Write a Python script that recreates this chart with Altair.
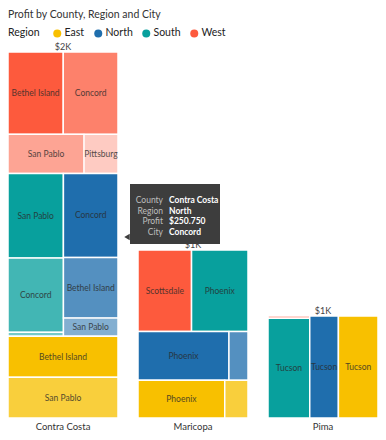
import altair as alt
import pandas as pd

# ---------------- data ----------------
county = ["Contra Costa"] * 12 + ["Maricopa"] * 6 + ["Pima"] * 4
region = (["West"] * 4 + ["South"] * 3 + ["North"] * 3 + ["East"] * 2
          + ["West", "South", "North", "North", "East", "East"]
          + ["West", "South", "North", "East"])
city = (["Bethel Island", "Concord", "San Pablo", "Pittsburg",
         "San Pablo", "Concord", "Pittsburg",
         "Concord", "Bethel Island", "San Pablo",
         "Bethel Island", "San Pablo"]
        + ["Scottsdale", "Phoenix", "Phoenix", "Mesa", "Phoenix", "Mesa"]
        + ["Tucson", "Tucson", "Tucson", "Tucson"])
profit = ([249, 247, 163, 73,
           256, 226, 12,
           250.75, 181, 55,
           247, 245]
          + [239, 252, 243, 51, 179, 48]
          + [5, 228, 160, 221])

county_order = ["Contra Costa", "Maricopa", "Pima"]
region_order = ["West", "South", "North", "East"]      # layout order
legend_order = ["East", "North", "South", "West"]
region_colors = ["#F8C000", "#1F6EAD", "#08A09D", "#FD5A3D"]
shade_levels = [1.0, 0.76, 0.55, 0.31]
chart_title = "Profit by County, Region and City"

# ---------------- geometry of the view ----------------
COL_W = 110
GAP = 20
PLOT_H = 366
PLOT_W = 3 * COL_W + 2 * GAP
PHI = (1 + 5 ** 0.5) / 2
FONT = "Lato"

df = pd.DataFrame(dict(county=county, region=region, city=city, profit=profit))
totals = df.groupby("county", sort=False)["profit"].sum()
YMAX = float(totals.max())
K = PLOT_H / YMAX  # px per $


def dice(items, x0, y0, x1, y1):
    tot = sum(v for _, v in items)
    out, x = [], x0
    for key, v in items:
        w = (x1 - x0) * v / tot if tot else 0
        out.append((key, x, y0, x + w, y1))
        x += w
    return out


def slice_(items, x0, y0, x1, y1):
    tot = sum(v for _, v in items)
    out, y = [], y0
    for key, v in items:
        h = (y1 - y0) * v / tot if tot else 0
        out.append((key, x0, y, x1, y + h))
        y += h
    return out


def squarify(items, x0, y0, x1, y1, ratio=PHI):
    """d3-hierarchy treemapSquarify (golden ratio)."""
    value = sum(v for _, v in items)
    n = len(items)
    i0 = i1 = 0
    out = []
    while i0 < n:
        dx, dy = x1 - x0, y1 - y0
        sumv = items[i1][1]
        i1 += 1
        minv = maxv = sumv
        alpha = max(dy / dx, dx / dy) / (value * ratio)
        beta = sumv * sumv * alpha
        minr = max(maxv / beta, beta / minv)
        while i1 < n:
            nv = items[i1][1]
            s = sumv + nv
            mn, mx = min(minv, nv), max(maxv, nv)
            beta = s * s * alpha
            nr = max(mx / beta, beta / mn)
            if nr > minr:
                break
            sumv, minv, maxv, minr = s, mn, mx, nr
            i1 += 1
        row = items[i0:i1]
        if dx < dy:
            ny = y0 + dy * sumv / value
            out += dice(row, x0, y0, x1, ny)
            y0 = ny
        else:
            nx = x0 + dx * sumv / value
            out += slice_(row, x0, y0, nx, y1)
            x0 = nx
        value -= sumv
        i0 = i1
    return out


rects = []
tot_rows = []
for ci, c in enumerate(county_order):
    sub = df[df.county == c]
    total = float(sub.profit.sum())
    cx0 = ci * (COL_W + GAP)
    top = PLOT_H - total * K
    tot_rows.append(dict(county=c, cx=cx0 + COL_W / 2, total=total))
    reg_items = [(r, float(sub[sub.region == r].profit.sum()))
                 for r in region_order if (sub.region == r).any()]
    for r, rx0, ry0, rx1, ry1 in squarify(reg_items, cx0, top, cx0 + COL_W, PLOT_H):
        rs = sub[sub.region == r]
        items = [(idx, float(v)) for idx, v in zip(rs.index, rs.profit)]
        for rank, (idx, x0, y0, x1, y1) in enumerate(squarify(items, rx0, ry0, rx1, ry1)):
            row = df.loc[idx]
            rects.append(dict(
                county=row.county, region=row.region, city=row.city,
                profit=row.profit, shade=shade_levels[min(rank, 3)],
                x0=x0, x1=x1,
                ytop=(PLOT_H - y0) / K, ybot=(PLOT_H - y1) / K,
                cx=(x0 + x1) / 2, cy=(PLOT_H - (y0 + y1) / 2) / K,
                show=bool((x1 - x0) >= 26 and (y1 - y0) >= 12),
            ))

rdf = pd.DataFrame(rects)
tdf = pd.DataFrame(tot_rows)

xs = alt.Scale(domain=[0, PLOT_W], nice=False, zero=False)
ys = alt.Scale(domain=[0, YMAX], nice=False, zero=False)

base = alt.Chart(rdf)

cells = base.mark_rect(stroke="white", strokeWidth=1.5).encode(
    x=alt.X("x0:Q", scale=xs, axis=None),
    x2="x1:Q",
    y=alt.Y("ytop:Q", scale=ys, axis=None),
    y2="ybot:Q",
    color=alt.Color("region:N",
                    scale=alt.Scale(domain=legend_order, range=region_colors),
                    legend=alt.Legend(title="Region")),
    opacity=alt.Opacity("shade:Q", scale=None, legend=None),
)

city_labels = base.transform_filter("datum.show").mark_text(
    fontSize=8.5, font=FONT, color="#2a2a2a", opacity=0.8
).encode(
    x=alt.X("cx:Q", scale=xs), y=alt.Y("cy:Q", scale=ys), text="city:N"
)

tot_labels = alt.Chart(tdf).transform_calculate(
    lab="'$' + format(datum.total / 1000, '.0f') + 'K'"
).mark_text(fontSize=9, font=FONT, color="#444444", dy=-2,
            baseline="alphabetic").encode(
    x=alt.X("cx:Q", scale=xs), y=alt.Y("total:Q", scale=ys), text="lab:N"
)

county_labels = alt.Chart(tdf).mark_text(
    fontSize=9.5, font=FONT, color="#333333", dy=12, baseline="alphabetic"
).encode(
    x=alt.X("cx:Q", scale=xs), y=alt.datum(0, scale=ys), text="county:N"
)

title_mark = alt.Chart(pd.DataFrame({"t": [chart_title]})).mark_text(
    align="left", baseline="middle", fontSize=10.5, font=FONT, color="#333333"
).encode(x=alt.value(0), y=alt.value(-37), text="t:N")

# ---- hover tooltip shown in the screenshot (North / Concord in Contra Costa) ----
tip_row = rdf[(rdf.county == "Contra Costa") & (rdf.region == "North") & (rdf.city == "Concord")]
tip_df = pd.DataFrame({
    "key": ["County", "Region", "Profit", "City"],
    "val": [tip_row.county.iloc[0], tip_row.region.iloc[0],
            "$" + f"{tip_row.profit.iloc[0]:.3f}", tip_row.city.iloc[0]],
    "line": [0, 1, 2, 3],
})
tip_box = alt.Chart(tip_df.head(1)).mark_rect(color="#3d3d3d").encode(
    x=alt.value(122), x2=alt.value(212), y=alt.value(132), y2=alt.value(192)
)
tip_arrow = alt.Chart(tip_df.head(1)).mark_point(
    shape="triangle-left", filled=True, color="#3d3d3d", size=40, opacity=1
).encode(x=alt.value(119), y=alt.value(185))
tip_keys = alt.Chart(tip_df).transform_calculate(py="148 + datum.line * 10.7").mark_text(
    align="right", baseline="middle", fontSize=8.5, font=FONT, color="#bdbdbd"
).encode(x=alt.value(155), y=alt.Y("py:Q", scale=None), text="key:N")
tip_vals = alt.Chart(tip_df).transform_calculate(py="148 + datum.line * 10.7").mark_text(
    align="left", baseline="middle", fontSize=8.5, font=FONT, color="white",
    fontWeight="bold"
).encode(x=alt.value(161), y=alt.Y("py:Q", scale=None), text="val:N")

chart = alt.layer(
    cells, city_labels, tot_labels, county_labels, title_mark,
    tip_box, tip_arrow, tip_keys, tip_vals
).properties(
    width=PLOT_W, height=PLOT_H,
    autosize=alt.AutoSizeParams(type="none"),
    padding={"left": 0, "top": 44, "right": 0, "bottom": 14},
).configure_view(stroke=None).configure_legend(
    orient="none", legendX=0, legendY=-24, direction="horizontal",
    titleOrient="left", titleFontSize=10.5, titleFont=FONT,
    titleFontWeight="normal", titleColor="#222222", titlePadding=12,
    labelFontSize=10.5, labelFont=FONT, labelColor="#222222",
    symbolType="circle", symbolSize=64, symbolStrokeWidth=0, symbolOpacity=1,
    labelOffset=2, columnPadding=8,
)

chart.save("out.html", embed_options={"renderer": "svg", "actions": False})
